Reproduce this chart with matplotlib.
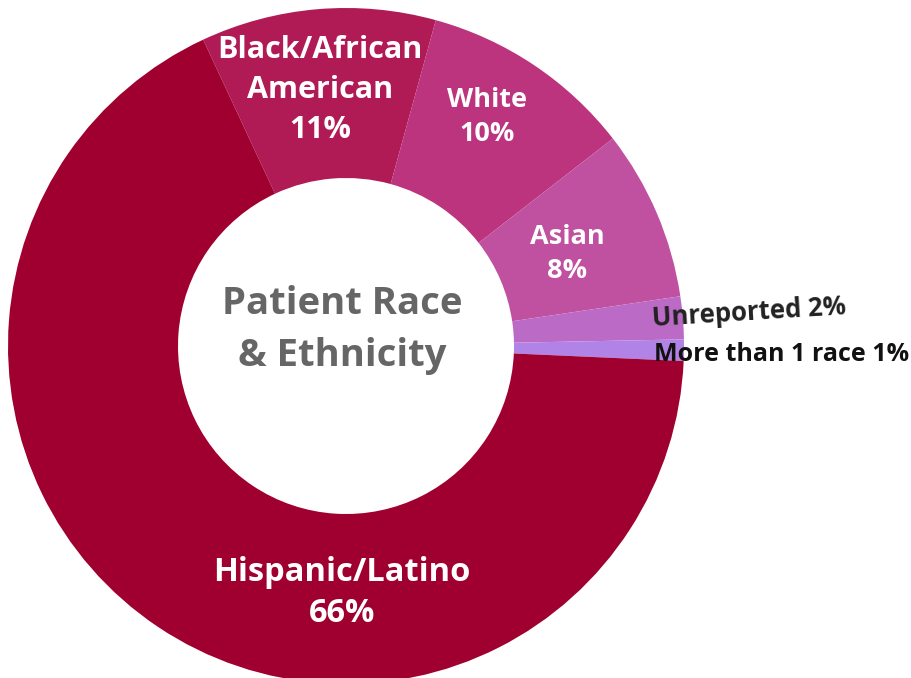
import matplotlib
matplotlib.use("Agg")
import matplotlib.pyplot as plt

# Data
groups = ["Black/African\nAmerican", "White", "Asian", "Unreported", "More than 1 race", "Hispanic/Latino"]
shares = [11, 10, 8, 2, 1, 66]
colors = ["#B01A55", "#BB347D", "#C050A0", "#BB6AC6", "#B283E6", "#A0002F"]

W, H = 912, 678
fig = plt.figure(figsize=(W / 100, H / 100), dpi=100)
ax = fig.add_axes([0, 0, 1, 1])

cx, cy, r = 346, H - 346, 338
ax.pie(shares, colors=colors, startangle=115, counterclock=False,
       center=(cx, cy), radius=r,
       wedgeprops=dict(width=r - 168, linewidth=0))
ax.set_xlim(0, W)
ax.set_ylim(0, H)
ax.set_aspect("equal")
ax.axis("off")

font = "Open Sans"
def label(x, y, s, size, color="white", rot=0, ha="center", ls=1.3):
    ax.text(x, H - y, s, ha=ha, va="center", fontsize=size, color=color,
            fontweight="bold", family=font, rotation=rot, linespacing=ls)

# inside labels (pixel positions from top)
label(320, 90, groups[0] + "\n" + str(shares[0]) + "%", 22, ls=1.42)
label(487, 117, groups[1] + "\n" + str(shares[1]) + "%", 19.5, ls=1.4)
label(567, 254, groups[2] + "\n" + str(shares[2]) + "%", 19.5, ls=1.4)
label(342, 593, groups[5] + "\n" + str(shares[5]) + "%", 23.5, ls=1.33)

# outside labels
label(651, 313, groups[3] + " " + str(shares[3]) + "%", 18.5, color="#222222", rot=3.5, ha="left")
label(654, 355, groups[4] + " " + str(shares[4]) + "%", 18, color="#111111", ha="left")

# center title
label(342, 330, "Patient Race\n& Ethnicity", 27.5, color="#666666", ls=1.45)

fig.savefig("out.png", dpi=100)
